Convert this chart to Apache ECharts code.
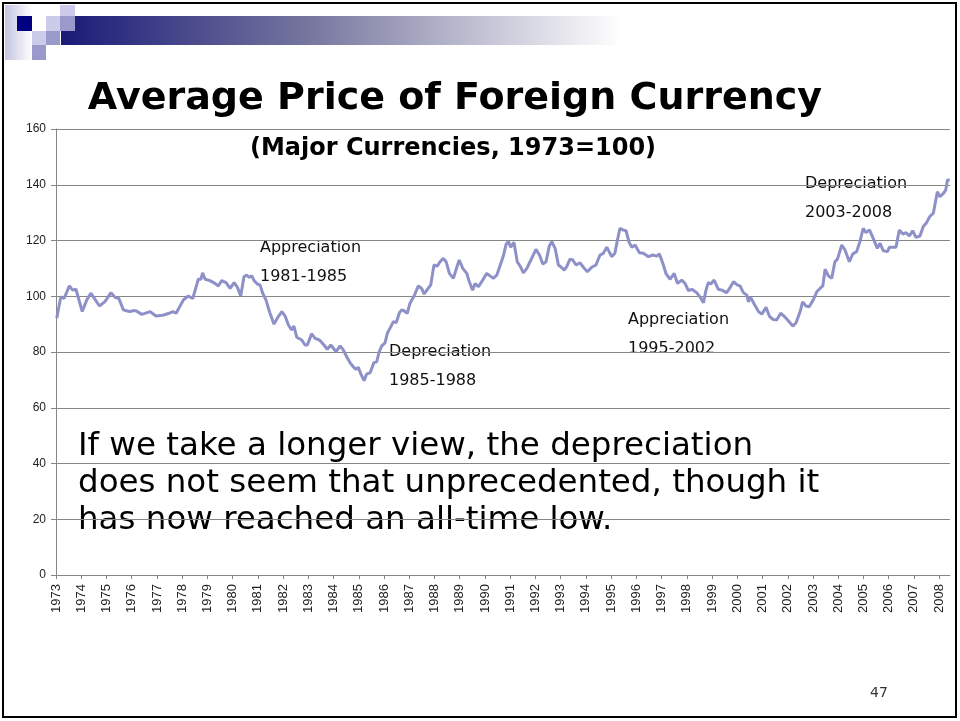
<!DOCTYPE html>
<html>
<head>
<meta charset="utf-8">
<script src="https://cdn.jsdelivr.net/npm/echarts@6/dist/echarts.min.js"></script>
<style>
  html, body { margin: 0; padding: 0; background: #fff; }
  #main { width: 960px; height: 721px; }
</style>
</head>
<body>
<div id="main"></div>
<script>
// monthly-ish readings of the index (decimal year, 1973=100)
var dates = [
  1973.03, 1973.19, 1973.32, 1973.53, 1973.66, 1973.79, 1974.04, 1974.22, 1974.38, 1974.72,
  1974.94, 1975.18, 1975.34, 1975.49, 1975.67, 1975.83, 1975.93, 1976.04, 1976.17, 1976.40,
  1976.73, 1976.96, 1977.23, 1977.49, 1977.63, 1977.76, 1978.05, 1978.24, 1978.42, 1978.64,
  1978.74, 1978.81, 1978.91, 1979.10, 1979.30, 1979.43, 1979.57, 1979.74, 1979.90, 1980.06,
  1980.19, 1980.32, 1980.45, 1980.56, 1980.66, 1980.76, 1980.85, 1980.98, 1981.09, 1981.19,
  1981.32, 1981.48, 1981.64, 1981.81, 1981.95, 1982.08, 1982.21, 1982.34, 1982.43, 1982.54,
  1982.74, 1982.87, 1982.96, 1983.13, 1983.27, 1983.44, 1983.62, 1983.75, 1983.89, 1984.10,
  1984.26, 1984.39, 1984.52, 1984.65, 1984.78, 1984.89, 1984.98, 1985.08, 1985.21, 1985.31,
  1985.45, 1985.60, 1985.71, 1985.81, 1985.91, 1986.04, 1986.13, 1986.27, 1986.37, 1986.48,
  1986.61, 1986.70, 1986.79, 1986.92, 1987.03, 1987.19, 1987.36, 1987.49, 1987.59, 1987.72,
  1987.85, 1987.98, 1988.11, 1988.22, 1988.35, 1988.46, 1988.59, 1988.75, 1988.85, 1988.98,
  1989.12, 1989.28, 1989.38, 1989.51, 1989.61, 1989.74, 1989.91, 1990.07, 1990.20, 1990.33,
  1990.47, 1990.60, 1990.73, 1990.84, 1990.93, 1991.02, 1991.15, 1991.28, 1991.42, 1991.52,
  1991.66, 1991.82, 1992.02, 1992.16, 1992.29, 1992.42, 1992.55, 1992.65, 1992.78, 1992.91,
  1993.00, 1993.14, 1993.24, 1993.37, 1993.48, 1993.61, 1993.77, 1993.90, 1994.06, 1994.23,
  1994.40, 1994.56, 1994.69, 1994.83, 1995.02, 1995.15, 1995.25, 1995.35, 1995.46, 1995.59,
  1995.72, 1995.82, 1995.95, 1996.12, 1996.28, 1996.48, 1996.65, 1996.81, 1996.91, 1997.05,
  1997.18, 1997.34, 1997.50, 1997.63, 1997.80, 1997.93, 1998.06, 1998.20, 1998.39, 1998.52,
  1998.66, 1998.76, 1998.85, 1998.95, 1999.08, 1999.25, 1999.39, 1999.58, 1999.72, 1999.85,
  2000.01, 2000.11, 2000.24, 2000.38, 2000.44, 2000.53, 2000.67, 2000.84, 2000.97, 2001.14,
  2001.27, 2001.41, 2001.56, 2001.72, 2001.85, 2002.02, 2002.20, 2002.33, 2002.49, 2002.59,
  2002.72, 2002.85, 2003.01, 2003.15, 2003.28, 2003.39, 2003.48, 2003.61, 2003.74, 2003.87,
  2003.97, 2004.14, 2004.27, 2004.44, 2004.58, 2004.73, 2004.86, 2004.99, 2005.10, 2005.24,
  2005.37, 2005.55, 2005.66, 2005.79, 2005.95, 2006.03, 2006.16, 2006.29, 2006.42, 2006.56,
  2006.69, 2006.82, 2006.95, 2007.08, 2007.24, 2007.37, 2007.50, 2007.63, 2007.77, 2007.93,
  2008.03, 2008.17, 2008.26, 2008.33, 2008.42
];
var values = [
  92.1, 99.8, 99.2, 103.7, 102.2, 102.5, 94.5, 98.7, 101.1, 96.5,
  98.1, 101.3, 99.6, 99.2, 95.1, 94.7, 94.5, 94.8, 94.8, 93.5,
  94.5, 92.9, 93.2, 93.9, 94.5, 93.9, 98.7, 100.1, 99.2, 106.1,
  106.1, 108.4, 106.1, 105.6, 104.6, 103.7, 105.6, 104.9, 102.8, 104.9,
  103.2, 100.1, 107.0, 107.6, 106.8, 107.3, 105.6, 104.4, 104.0, 101.1,
  98.7, 93.9, 90.0, 92.7, 94.5, 92.9, 89.7, 87.9, 89.3, 85.3,
  84.3, 82.5, 82.5, 86.5, 84.9, 84.3, 82.5, 81.0, 82.5, 80.1,
  82.2, 80.7, 78.3, 76.2, 74.7, 73.8, 74.5, 72.1, 69.7, 72.1,
  72.6, 76.2, 76.5, 80.1, 82.2, 83.3, 86.7, 89.1, 90.9, 90.5,
  94.1, 95.1, 94.8, 93.9, 97.5, 100.1, 103.7, 102.8, 100.8, 102.5,
  104.0, 111.2, 110.8, 112.4, 113.6, 112.4, 108.2, 106.4, 109.4, 113.0,
  110.0, 108.2, 105.2, 102.2, 104.6, 103.4, 105.8, 108.2, 107.3, 106.4,
  107.6, 111.0, 114.5, 118.7, 119.6, 117.6, 119.3, 112.4, 110.4, 108.4,
  110.0, 113.0, 116.8, 114.8, 111.6, 112.4, 118.0, 119.6, 117.2, 111.2,
  110.6, 109.4, 110.6, 113.3, 113.0, 111.2, 112.0, 110.4, 108.8, 110.4,
  111.2, 114.8, 115.4, 117.6, 114.2, 115.4, 120.2, 124.4, 123.8, 123.5,
  119.2, 117.6, 118.4, 115.6, 115.4, 114.2, 114.8, 114.4, 115.2, 111.8,
  108.0, 106.1, 108.2, 104.6, 105.8, 104.6, 102.0, 102.5, 101.3, 99.8,
  97.7, 102.2, 104.9, 104.4, 105.8, 102.5, 102.2, 101.3, 103.2, 105.2,
  104.0, 103.7, 101.3, 100.4, 98.0, 99.6, 97.2, 94.5, 93.6, 96.0,
  92.9, 91.7, 91.5, 93.9, 92.9, 91.2, 89.3, 90.5, 94.5, 98.0,
  96.5, 96.2, 98.7, 101.6, 102.8, 103.7, 109.7, 107.3, 106.4, 112.4,
  113.3, 118.4, 116.6, 112.4, 115.2, 116.0, 119.6, 124.4, 122.8, 123.8,
  121.1, 117.2, 119.0, 116.3, 116.0, 117.6, 117.6, 117.6, 123.8, 122.3,
  122.8, 121.6, 123.5, 121.1, 121.6, 125.0, 126.4, 128.6, 129.8, 137.5,
  135.7, 136.9, 138.1, 141.7, 141.7
];
var yearTicks = [];
for (var y = 1973; y <= 2008; y++) yearTicks.push(y);

var annotations = [
  { text: 'Appreciation\n1981-1985', x: 260, y: 233 },
  { text: 'Depreciation\n1985-1988', x: 389, y: 337 },
  { text: 'Appreciation\n1995-2002', x: 628, y: 305 },
  { text: 'Depreciation\n2003-2008', x: 805, y: 169 }
];

var myChart = echarts.init(document.getElementById('main'));

var sans = 'DejaVu Sans';
var graphics = [
  // slide decoration top-left
  { type: 'rect', shape: { x: 61, y: 16, width: 560, height: 29 }, silent: true,
    style: { fill: new echarts.graphic.LinearGradient(0, 0, 1, 0, [
      { offset: 0, color: '#1a1a78' }, { offset: 0.45, color: '#7878a0' }, { offset: 1, color: '#ffffff' }]) } },
  { type: 'rect', shape: { x: 5, y: 5, width: 27, height: 55 }, silent: true,
    style: { fill: new echarts.graphic.LinearGradient(0, 0, 1, 0, [
      { offset: 0, color: '#c4c4e2' }, { offset: 1, color: '#ffffff' }]) } },
  { type: 'rect', shape: { x: 17, y: 16, width: 15, height: 15 }, style: { fill: '#000080' }, silent: true },
  { type: 'rect', shape: { x: 60, y: 5, width: 15, height: 11 }, style: { fill: '#ccccea' }, silent: true },
  { type: 'rect', shape: { x: 46, y: 16, width: 14, height: 15 }, style: { fill: '#ccccea' }, silent: true },
  { type: 'rect', shape: { x: 60, y: 16, width: 15, height: 15 }, style: { fill: '#9999cc' }, silent: true },
  { type: 'rect', shape: { x: 32, y: 31, width: 14, height: 14 }, style: { fill: '#ccccea' }, silent: true },
  { type: 'rect', shape: { x: 46, y: 31, width: 14, height: 14 }, style: { fill: '#9999cc' }, silent: true },
  { type: 'rect', shape: { x: 32, y: 45, width: 14, height: 15 }, style: { fill: '#9999cc' }, silent: true },
  // slide frame
  { type: 'rect', shape: { x: 3, y: 3, width: 953, height: 714 }, silent: true, z: 100,
    style: { fill: 'none', stroke: '#000', lineWidth: 2 } },
  // titles
  { type: 'text', x: 455, y: 99, silent: true,
    style: { text: 'Average Price of Foreign Currency', font: 'bold 38px ' + sans,
      fill: '#000', textAlign: 'center', textVerticalAlign: 'middle' } },
  { type: 'text', x: 453, y: 149, silent: true,
    style: { text: '(Major Currencies, 1973=100)', font: 'bold 24px ' + sans,
      fill: '#000', textAlign: 'center', textVerticalAlign: 'middle' } },
  // commentary
  { type: 'text', x: 78, y: 428, silent: true,
    style: { text: 'If we take a longer view, the depreciation\ndoes not seem that unprecedented, though it\nhas now reached an all-time low.',
      font: '32.5px ' + sans, lineHeight: 37, fill: '#000' } },
  { type: 'text', x: 870, y: 693, silent: true,
    style: { text: '47', font: '14px ' + sans, fill: '#333', textVerticalAlign: 'middle' } }
];
annotations.forEach(function (a) {
  graphics.push({ type: 'text', x: a.x, y: a.y, silent: true,
    style: { text: a.text, font: '16px ' + sans, lineHeight: 29, fill: '#111' } });
});

var option = {
  animation: false,
  backgroundColor: '#fff',
  grid: { left: 56, right: 10, top: 129, bottom: 146 },
  xAxis: {
    type: 'value',
    min: 1973,
    max: 2008.43,
    splitLine: { show: false },
    axisLine: { lineStyle: { color: '#868686' } },
    axisTick: { customValues: yearTicks, length: 4, lineStyle: { color: '#868686' } },
    axisLabel: {
      customValues: yearTicks, rotate: 90, margin: 9,
      formatter: function (v) { return String(Math.round(v)); },
      fontFamily: 'Liberation Sans', fontSize: 13, color: '#222'
    }
  },
  yAxis: {
    type: 'value',
    min: 0, max: 160, interval: 20,
    axisLine: { show: true, lineStyle: { color: '#868686' } },
    axisTick: { show: true, length: 5, lineStyle: { color: '#868686' } },
    splitLine: { lineStyle: { color: '#868686', width: 1 } },
    axisLabel: { fontFamily: 'Liberation Sans', fontSize: 12, color: '#222', margin: 10 }
  },
  series: [{
    type: 'line',
    data: dates.map(function (d, i) { return [d, values[i]]; }),
    showSymbol: false,
    lineStyle: { color: '#8e90c8', width: 3 },
    z: 3
  }],
  graphic: graphics
};
myChart.setOption(option);
</script>
</body>
</html>
